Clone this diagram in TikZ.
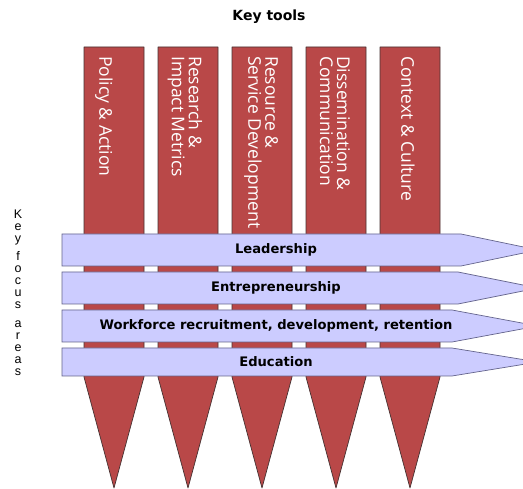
\documentclass[tikz,border=0pt]{standalone}
\usepackage{fontspec}
\setmainfont{Liberation Sans}
\newfontfamily\toolfont{Open Sans}
\newfontfamily\headfont{DejaVu Sans}
\usetikzlibrary{positioning}

\definecolor{toolred}{RGB}{185,72,72}
\definecolor{toolline}{RGB}{70,50,50}
\definecolor{focusblue}{RGB}{204,204,255}
\definecolor{focusline}{RGB}{100,100,140}

\tikzset{
    tool/.style={fill=toolred, draw=toolline, line width=0.7pt, line join=round},
    toollabel/.style={rotate=-90, anchor=west, inner sep=0pt, text=white, align=left,
        font=\toolfont\fontsize{17.5}{17}\selectfont},
    focus/.style={fill=focusblue, draw=focusline, line width=0.7pt},
    focuslabel/.style={inner sep=0pt, font=\headfont\bfseries\fontsize{13.1}{14}\selectfont}
}

\begin{document}
\begin{tikzpicture}[x=1pt,y=-1pt]
\clip (0,0) rectangle (523,489);
\fill[white] (0,0) rectangle (523,489);

% Title
\node[inner sep=0pt, font=\headfont\bfseries\fontsize{14}{16}\selectfont] (title) at (269,17) {Key tools};

% Side label
\node[anchor=north, inner sep=0pt, align=center, font=\fontsize{12.5}{12}\selectfont] (side) at (18,210)
    {K\\e\\y\\[6pt]f\\o\\c\\u\\s\\[6.5pt]a\\r\\e\\a\\s};

% Key tools (columns)
\foreach \i/\dx/\name in {1/-10/{Policy \& Action}, 2/-3/{Research \&\\Impact Metrics},
    3/-1/{Resource \&\\Service Development}, 4/-1/{Dissemination \&\\Communication},
    5/-2/{Context \& Culture}} {
    \pgfmathsetmacro\xl{84+74*(\i-1)}
    \draw[tool] (\xl,47) -- ++(60,0) -- ++(0,330) -- ++(-30,111) -- ++(-30,-111) -- cycle;
    \node[toollabel] (tool\i) at (\xl+30+\dx,56) {\name};
}

% Key focus areas (arrows)
\foreach \i/\top/\bot/\shaft/\name in {1/234/266/461/Leadership, 2/272/304/458/Entrepreneurship,
    3/310/342/452/{Workforce recruitment, development, retention}, 4/348/376/452/Education} {
    \draw[focus] (62,\top) -- (\shaft,\top) -- (538,{(\top+\bot)/2}) -- (\shaft,\bot) -- (62,\bot) -- cycle;
    \node[focuslabel] (focus\i) at (276,{(\top+\bot)/2}) {\name};
}
\end{tikzpicture}
\end{document}
